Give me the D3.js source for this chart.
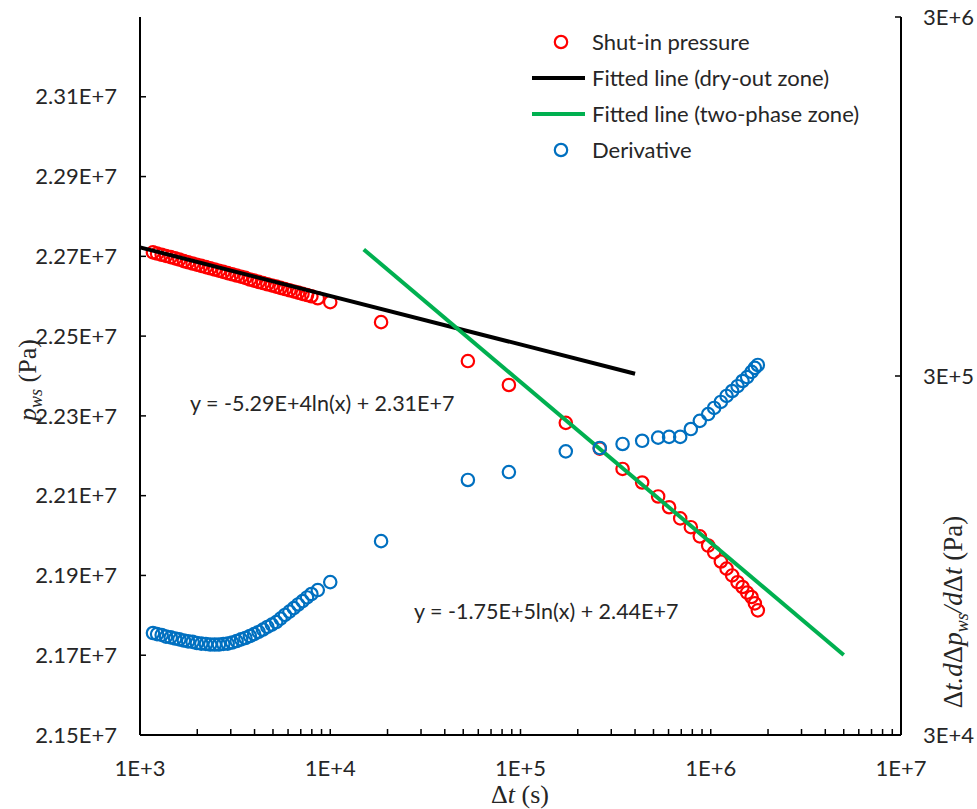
<!DOCTYPE html>
<html>
<head>
<meta charset="utf-8">
<script src="https://cdn.jsdelivr.net/npm/d3@7"></script>
<style>
  body { margin: 0; background: #fff; }
  svg { display: block; }
  .tick-label { font-family: Lato, "Open Sans", sans-serif; font-size: 22px; fill: #262626; }
  .legend-text { font-family: Lato, "Open Sans", sans-serif; font-size: 22px; fill: #262626; }
  .eq-text { font-family: Lato, "Open Sans", sans-serif; font-size: 21.5px; fill: #262626; }
  .axis-title { font-family: "Liberation Serif", "DejaVu Serif", serif; font-size: 26px; fill: #262626; }
</style>
</head>
<body>
<svg id="chart" width="977" height="809"></svg>
<script>
// ---- data ----
// shut-in time, s
var times = [1170, 1230, 1300, 1370, 1450, 1530, 1610, 1700, 1790, 1890,
  1990, 2100, 2220, 2340, 2470, 2600, 2740, 2890, 3050, 3220,
  3400, 3580, 3780, 3980, 4200, 4430, 4670, 4930, 5200, 5480,
  5780, 6100, 6430, 6780, 7150, 7550, 7960, 8600,
  10000, 18500, 52900, 86900, 173000, 261000, 344000, 436000, 529000, 604000,
  691000, 786000, 876000, 969000, 1042000, 1130000, 1211000, 1296000, 1383000, 1469000,
  1553000, 1639000, 1705000, 1768000];

// shut-in pressure, Pa
var pressure = [22710000, 22707000, 22704000, 22701000, 22698000, 22695000, 22692000, 22688000, 22685000, 22682000,
  22679000, 22676000, 22673000, 22670000, 22667000, 22664000, 22661000, 22658000, 22655000, 22652000,
  22649000, 22646000, 22642000, 22639000, 22636000, 22633000, 22630000, 22627000, 22624000, 22621000,
  22618000, 22615000, 22612000, 22609000, 22606000, 22603000, 22600000, 22595000,
  22585000, 22535000, 22437500, 22377500, 22282500, 22218000, 22167000, 22133000, 22098000, 22071000,
  22043000, 22021000, 21998000, 21975000, 21958000, 21935000, 21917000, 21900000, 21883000, 21871000,
  21857000, 21846000, 21830000, 21812500];

// pressure derivative, Pa
var derivative = [57700, 57300, 57000, 56400, 56100, 55700, 55400, 55000, 54700, 54500,
  54100, 53900, 53800, 53600, 53600, 53600, 53800, 53900, 54300, 54800,
  55400, 55900, 56600, 57300, 58100, 59000, 60000, 60900, 61900, 63300,
  64800, 66200, 67700, 69300, 70800, 72500, 74100, 76000,
  80000, 104000, 154000, 162000, 185000, 189000, 194000, 198000, 202000, 203000,
  203000, 213500, 225000, 235000, 244400, 254000, 264000, 272500, 281000, 290500,
  298000, 308000, 316000, 322000];

// fitted lines: y = a ln(x) + b over [from, to]
var dryFit = { a: -5.29e4, b: 2.3088e7, from: 1000, to: 400000 };
var twoFit = { a: -1.75e5, b: 2.44e7, from: 15000, to: 5000000 };
var dryEquation = "y = -5.29E+4ln(x) + 2.31E+7";
var twoEquation = "y = -1.75E+5ln(x) + 2.44E+7";

var xTicks = [1e3, 1e4, 1e5, 1e6, 1e7];
var xTickLabels = ["1E+3", "1E+4", "1E+5", "1E+6", "1E+7"];
var leftTicks = [2.15e7, 2.17e7, 2.19e7, 2.21e7, 2.23e7, 2.25e7, 2.27e7, 2.29e7, 2.31e7];
var leftTickLabels = ["2.15E+7", "2.17E+7", "2.19E+7", "2.21E+7", "2.23E+7", "2.25E+7", "2.27E+7", "2.29E+7", "2.31E+7"];
var rightTicks = [3e4, 3e5, 3e6];
var rightTickLabels = ["3E+4", "3E+5", "3E+6"];

var legendItems = [
  { label: "Shut-in pressure", kind: "circle", color: "#ff0000" },
  { label: "Fitted line (dry-out zone)", kind: "line", color: "#000000" },
  { label: "Fitted line (two-phase zone)", kind: "line", color: "#00b050" },
  { label: "Derivative", kind: "circle", color: "#0070c0" }
];

// ---- layout ----
var plotLeft = 140, plotRight = 901, plotTop = 17, plotBottom = 735;
var markerR = 6.2;

var x = d3.scaleLog().domain([1e3, 1e7]).range([plotLeft, plotRight]);
var yL = d3.scaleLinear().domain([2.15e7, 2.33e7]).range([plotBottom, plotTop]);
var yR = d3.scaleLog().domain([3e4, 3e6]).range([plotBottom, plotTop]);

var svg = d3.select("#chart");

// axis lines
svg.append("line").attr("x1", plotLeft).attr("x2", plotLeft).attr("y1", plotTop).attr("y2", plotBottom)
  .attr("stroke", "#000").attr("stroke-width", 2);
svg.append("line").attr("x1", plotRight).attr("x2", plotRight).attr("y1", plotTop).attr("y2", plotBottom)
  .attr("stroke", "#000").attr("stroke-width", 2);
svg.append("line").attr("x1", plotLeft).attr("x2", plotRight).attr("y1", plotBottom).attr("y2", plotBottom)
  .attr("stroke", "#000").attr("stroke-width", 2);

// x ticks (major + minor, pointing inward)
var xAllTicks = x.ticks();
svg.append("g").selectAll("line").data(xAllTicks).join("line")
  .attr("x1", function (d) { return x(d); })
  .attr("x2", function (d) { return x(d); })
  .attr("y1", plotBottom)
  .attr("y2", plotBottom - 6)
  .attr("stroke", "#000").attr("stroke-width", 1.5);

svg.append("g").selectAll("text").data(xTicks).join("text")
  .attr("class", "tick-label")
  .attr("x", function (d) { return x(d); })
  .attr("y", 776)
  .attr("text-anchor", "middle")
  .text(function (d, i) { return xTickLabels[i]; });

// left ticks
svg.append("g").selectAll("line").data(leftTicks).join("line")
  .attr("x1", plotLeft).attr("x2", plotLeft + 6)
  .attr("y1", function (d) { return yL(d); })
  .attr("y2", function (d) { return yL(d); })
  .attr("stroke", "#000").attr("stroke-width", 1.5);

svg.append("g").selectAll("text").data(leftTicks).join("text")
  .attr("class", "tick-label")
  .attr("x", 117)
  .attr("y", function (d) { return yL(d); })
  .attr("dy", "0.35em")
  .attr("text-anchor", "end")
  .text(function (d, i) { return leftTickLabels[i]; });

// right ticks
svg.append("g").selectAll("line").data(rightTicks).join("line")
  .attr("x1", plotRight - 6).attr("x2", plotRight)
  .attr("y1", function (d) { return yR(d); })
  .attr("y2", function (d) { return yR(d); })
  .attr("stroke", "#000").attr("stroke-width", 1.5);

svg.append("g").selectAll("text").data(rightTicks).join("text")
  .attr("class", "tick-label")
  .attr("x", 923)
  .attr("y", function (d) { return yR(d); })
  .attr("dy", "0.35em")
  .attr("text-anchor", "start")
  .text(function (d, i) { return rightTickLabels[i]; });

// axis titles
var xt = svg.append("text").attr("class", "axis-title")
  .attr("x", 520).attr("y", 803).attr("text-anchor", "middle");
xt.append("tspan").text("\u0394");
xt.append("tspan").attr("font-style", "italic").text("t");
xt.append("tspan").text(" (s)");

var ylt = svg.append("text").attr("class", "axis-title")
  .attr("transform", "translate(36,380) rotate(-90)")
  .attr("text-anchor", "middle");
ylt.append("tspan").attr("font-style", "italic").text("p");
ylt.append("tspan").attr("font-style", "italic").attr("font-size", "18px").attr("dy", 6).text("ws");
ylt.append("tspan").attr("dy", -6).text(" (Pa)");

var yrt = svg.append("text").attr("class", "axis-title")
  .attr("transform", "translate(962,612) rotate(-90)")
  .attr("text-anchor", "middle")
  .style("font-size", "27px");
yrt.append("tspan").text("\u0394");
yrt.append("tspan").attr("font-style", "italic").text("t.d");
yrt.append("tspan").text("\u0394");
yrt.append("tspan").attr("font-style", "italic").text("p");
yrt.append("tspan").attr("font-style", "italic").attr("font-size", "18px").attr("dy", 6).text("ws");
yrt.append("tspan").attr("dy", -6).attr("font-style", "italic").text("/d");
yrt.append("tspan").text("\u0394");
yrt.append("tspan").attr("font-style", "italic").text("t");
yrt.append("tspan").text(" (Pa)");

// data rows
var rows = times.map(function (t, i) {
  return { t: t, p: pressure[i], d: derivative[i] };
});

// shut-in pressure
svg.append("g").selectAll("circle").data(rows).join("circle")
  .attr("cx", function (d) { return x(d.t); })
  .attr("cy", function (d) { return yL(d.p); })
  .attr("r", markerR)
  .attr("fill", "none")
  .attr("stroke", "#ff0000")
  .attr("stroke-width", 2.2);

// fitted lines
function fitPoints(f) {
  return [f.from, f.to].map(function (t) { return [t, f.a * Math.log(t) + f.b]; });
}
var line = d3.line()
  .x(function (d) { return x(d[0]); })
  .y(function (d) { return yL(d[1]); });

svg.append("path").attr("d", line(fitPoints(dryFit)))
  .attr("fill", "none").attr("stroke", "#000").attr("stroke-width", 4);
svg.append("path").attr("d", line(fitPoints(twoFit)))
  .attr("fill", "none").attr("stroke", "#00b050").attr("stroke-width", 4);

// derivative
svg.append("g").selectAll("circle").data(rows).join("circle")
  .attr("cx", function (d) { return x(d.t); })
  .attr("cy", function (d) { return yR(d.d); })
  .attr("r", markerR)
  .attr("fill", "none")
  .attr("stroke", "#0070c0")
  .attr("stroke-width", 2.2);

// equations
svg.append("text").attr("class", "eq-text").attr("x", 190).attr("y", 411)
  .text(dryEquation);
svg.append("text").attr("class", "eq-text").attr("x", 414).attr("y", 619)
  .text(twoEquation);

// legend
var lg = svg.append("g").selectAll("g").data(legendItems).join("g")
  .attr("transform", function (d, i) { return "translate(0," + (42 + i * 36) + ")"; });

lg.filter(function (d) { return d.kind === "circle"; }).append("circle")
  .attr("cx", 561).attr("cy", 0).attr("r", markerR)
  .attr("fill", "none").attr("stroke", function (d) { return d.color; }).attr("stroke-width", 2.2);
lg.filter(function (d) { return d.kind === "line"; }).append("line")
  .attr("x1", 532).attr("x2", 585).attr("y1", 0).attr("y2", 0)
  .attr("stroke", function (d) { return d.color; }).attr("stroke-width", 4);
lg.append("text").attr("class", "legend-text")
  .attr("x", 592).attr("y", 0).attr("dy", "0.35em")
  .text(function (d) { return d.label; });
</script>
</body>
</html>
